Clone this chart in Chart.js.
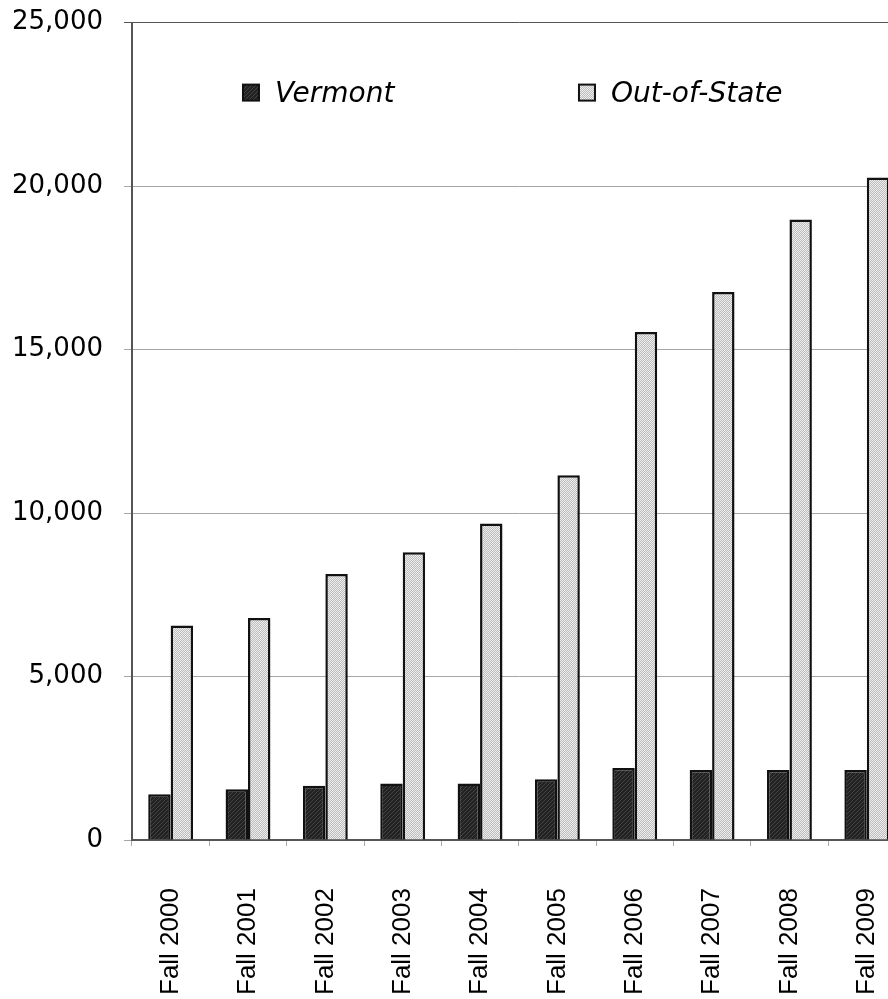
<!DOCTYPE html>
<html>
<head>
<meta charset="UTF-8">
<title>enrollment.html</title>
<script src="https://cdn.jsdelivr.net/npm/chart.js"></script>
<style>
	html, body {margin:0; padding:0; overflow:hidden; background:#fff;}
	/* wrap is larger than the window: the plot runs off the right edge like the original */
	#wrap {position:relative; left:-21px; top:-14px; width:961px; height:1055px;}
</style>
</head>
<body>
	<div id="wrap">
		<canvas id="myChart"></canvas>
	</div>
<script>
	// chart data
	let years = ['Fall 2000','Fall 2001','Fall 2002','Fall 2003','Fall 2004',
				 'Fall 2005','Fall 2006','Fall 2007','Fall 2008','Fall 2009'];
	let vermont = [1400, 1550, 1660, 1730, 1730, 1860, 2200, 2140, 2140, 2140];
	let outOfState = [6560, 6790, 8140, 8800, 9680, 11160, 15540, 16760, 18980, 20260];
	let yTicks = [0, 5000, 10000, 15000, 20000, 25000];

	// small canvas fill patterns (hatch / stipple)
	function makePattern(size, draw) {
		let c = document.createElement('canvas');
		c.width = size; c.height = size;
		draw(c.getContext('2d'));
		return c.getContext('2d').createPattern(c, 'repeat');
	}
	let darkHatch = makePattern(4, function(g) {
		g.fillStyle = '#222';
		g.fillRect(0, 0, 4, 4);
		g.fillStyle = '#454545';
		for (let i = 0; i < 4; i++) g.fillRect(i, 3 - i, 1, 1);
	});
	let lightDots = makePattern(2, function(g) {
		g.fillStyle = '#eeeeee';
		g.fillRect(0, 0, 2, 2);
		g.fillStyle = '#bcbcbc';
		g.fillRect(0, 0, 1, 1);
		g.fillRect(1, 1, 1, 1);
	});

	// legend drawn inside the plot area
	const legendInside = {
		id: 'legendInside',
		afterDraw(chart) {
			const ctx = chart.ctx, area = chart.chartArea;
			const offs = [111, 447];
			chart.data.datasets.forEach(function(ds, i) {
				let x = area.left + offs[i], y = area.top + 62;
				ctx.save();
				ctx.fillStyle = ds.backgroundColor;
				ctx.fillRect(x, y, 16, 16);
				ctx.lineWidth = 2;
				ctx.strokeStyle = '#111';
				ctx.strokeRect(x, y, 16, 16);
				ctx.fillStyle = '#000';
				ctx.font = 'italic 28px "DejaVu Sans"';
				ctx.textBaseline = 'alphabetic';
				ctx.fillText(ds.label, x + 32, y + 17);
				ctx.restore();
			});
		}
	};

	let ctx = document.getElementById('myChart');
	let chart = new Chart(ctx, {
		type: 'bar',
		data: {
			labels: years,
			datasets: [{
				label: 'Vermont',
				data: vermont,
				backgroundColor: darkHatch,
				borderColor: '#111',
				borderWidth: 2.5
			}, {
				label: 'Out-of-State',
				data: outOfState,
				backgroundColor: lightDots,
				borderColor: '#111',
				borderWidth: 2.5
			}]
		},
		options: {
			responsive: true,
			maintainAspectRatio: false,
			animation: false,
			devicePixelRatio: 1,
			layout: {padding: {top: 8, left: 12, right: 0, bottom: 4}},
			datasets: {bar: {categoryPercentage: 0.58, barPercentage: 1.0}},
			plugins: {
				legend: {display: false},
				tooltip: {enabled: false}
			},
			scales: {
				x: {
					grid: {offset: true, drawOnChartArea: false, tickLength: 6, color: '#aaa'},
					border: {color: '#555', width: 2},
					ticks: {
						autoSkip: false,
						minRotation: 90,
						maxRotation: 90,
						padding: 42,
						color: '#000',
						font: {family: '"Liberation Sans", Arial', size: 26}
					}
				},
				y: {
					min: 0,
					max: 25000,
					afterBuildTicks: function(axis) {
						axis.ticks = yTicks.map(function(v) { return {value: v}; });
					},
					grid: {
						tickLength: 8,
						lineWidth: 1,
						color: function(c) {
							return (c.tick && c.tick.value === 25000) ? '#555' : '#a6a6a6';
						}
					},
					border: {color: '#555', width: 2},
					ticks: {
						padding: 21,
						color: '#000',
						font: {family: '"DejaVu Sans"', size: 26},
						callback: function(v) { return v.toLocaleString('en-US'); }
					}
				}
			}
		},
		plugins: [legendInside]
	});
</script>
</body>
</html>
